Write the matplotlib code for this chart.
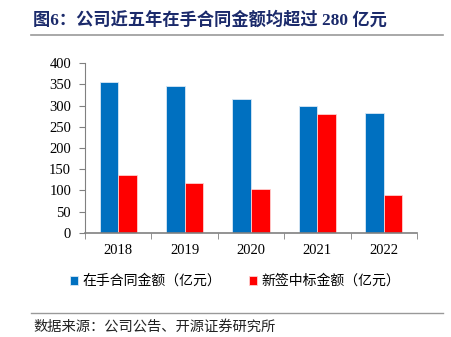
import numpy as np
import matplotlib
matplotlib.use("Agg")
import matplotlib.pyplot as plt
from matplotlib.lines import Line2D

plt.rcParams['font.family'] = ['Liberation Serif', 'Noto Sans CJK SC']

years = ["2018", "2019", "2020", "2021", "2022"]
backlog = [357, 347, 316, 299, 282]     # 在手合同金额
new_bids = [136, 117, 103, 281, 88]     # 新签中标金额
yticks = [0, 50, 100, 150, 200, 250, 300, 350, 400]

title = "图6：公司近五年在手合同金额均超过 280 亿元"
source = "数据来源：公司公告、开源证券研究所"
cjk = ['Noto Sans CJK SC', 'DejaVu Sans']
mixed = ['Liberation Serif', 'Noto Sans CJK SC']

fig = plt.figure(figsize=(4.52, 3.37), dpi=100)
ax = fig.add_axes([85 / 452, 1 - 232.7 / 337, 332 / 452, 169.4 / 337])

x = np.arange(len(years))
w = 0.28
ax.bar(x - w / 2, backlog, w, color="#0070C0", edgecolor="#d8e8f5", linewidth=0.6,
       label="在手合同金额（亿元）")
ax.bar(x + w / 2, new_bids, w, color="#FF0000", edgecolor="#ffd0d0", linewidth=0.6,
       label="新签中标金额（亿元）")

ax.set_xlim(-0.5, len(years) - 0.5)
ax.set_ylim(0, 400)
ax.set_yticks(yticks)
ax.set_xticks(x)
ax.set_xticklabels(years)
ax.set_xticks(np.arange(len(years) + 1) - 0.5, minor=True)
ax.tick_params(axis="x", which="major", length=0, pad=8, labelsize=10.5)
ax.tick_params(axis="x", which="minor", length=4, direction="out", color="#808080")
ax.tick_params(axis="y", length=4, direction="out", color="#808080", labelsize=10.5, pad=6)
for s in ["top", "right"]:
    ax.spines[s].set_visible(False)
ax.spines["left"].set_color("#808080")
ax.spines["bottom"].set_color("#808080")
ax.spines["bottom"].set_linewidth(1.2)

fig.text(33 / 452, 1 - 20 / 337, title, family=mixed, fontsize=12.4, fontweight="bold",
         color="#1B2A6B", va="center", ha="left")
fig.add_artist(Line2D([31 / 452, 443 / 452], [1 - 35 / 337] * 2, color="#999999", lw=1.2))

leg = fig.legend(loc="center", bbox_to_anchor=(0.52, 1 - 281 / 337), ncol=2, frameon=False,
                 prop={"family": cjk, "size": 10}, handlelength=0.6, handleheight=0.6,
                 handletextpad=0.3, columnspacing=2.0)

fig.add_artist(Line2D([31 / 452, 443 / 452], [1 - 313 / 337] * 2, color="#999999", lw=1.0))
fig.text(33 / 452, 1 - 327 / 337, source, family=cjk, fontsize=10.3, color="#222222",
         va="center", ha="left")

fig.savefig("out.png", dpi=100)
